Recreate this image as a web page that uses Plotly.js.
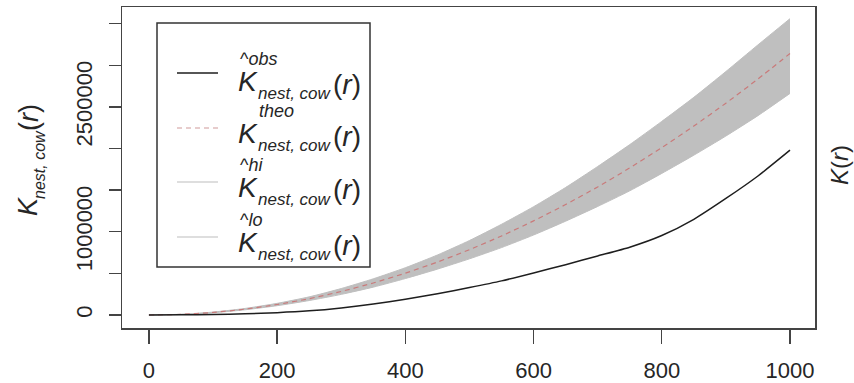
<!DOCTYPE html>
<html>
<head>
<meta charset="utf-8">
<script src="https://cdn.plot.ly/plotly-3.0.1.min.js"></script>
<style>
html,body{margin:0;padding:0;background:#fff;}
#chart{width:854px;height:383px;}
</style>
</head>
<body>
<div id="chart"></div>
<script>
// ---- data ----
const r      = [0,50,100,150,200,250,300,350,400,450,500,550,600,650,700,750,800,850,900,950,1000];
const kObs   = [0,2000,6000,14000,28000,50000,85000,132000,190000,255000,330000,410000,505000,605000,710000,815000,955000,1150000,1400000,1670000,1980000];
const kTheo  = [0,8000,31000,71000,126000,196000,283000,385000,503000,636000,785000,950000,1131000,1327000,1539000,1767000,2011000,2270000,2545000,2835000,3142000];
const kHi    = [0,9000,35000,79000,140000,218000,318000,435000,568000,721000,895000,1090000,1301000,1532000,1784000,2047000,2326000,2615000,2925000,3245000,3560000];
const kLo    = [0,7000,27000,63000,112000,174000,248000,335000,438000,551000,675000,810000,961000,1127000,1304000,1492000,1701000,1920000,2150000,2395000,2662000];
const xTickVals = [0,200,400,600,800,1000];
const yTickVals = [0,500000,1000000,1500000,2000000,2500000,3000000,3500000];
const yTickText = ['0','','1000000','','','2500000','',''];
const legendSup = ['obs','theo','hi','lo'];
const legendHat = [true,false,true,true];
const legendSub = 'nest, cow';

// ---- layout geometry (pixels) ----
const W=854,H=383,L=122,R=815,T=7,B=328;
const px = x => (x-L)/(R-L);
const py = y => (B-y)/(B-T);

const traces = [
  {x:r,y:kLo,type:'scatter',mode:'lines',line:{color:'#bfbfbf',width:1,shape:'spline',smoothing:0.6},hoverinfo:'skip',showlegend:false},
  {x:r,y:kHi,type:'scatter',mode:'lines',fill:'tonexty',fillcolor:'#bfbfbf',line:{color:'#bfbfbf',width:1,shape:'spline',smoothing:0.6},hoverinfo:'skip',showlegend:false},
  {x:r,y:kTheo,type:'scatter',mode:'lines',line:{color:'#c97a7a',width:1.2,dash:'5px,4px',shape:'spline',smoothing:0.6},showlegend:false},
  {x:r,y:kObs,type:'scatter',mode:'lines',line:{color:'#1e1e1e',width:1.5,shape:'spline',smoothing:0.6},showlegend:false}
];

const FONT='Liberation Sans, Arial, sans-serif';
const TXT='#262626';
const ann=[];
const shapes=[];
// legend box
shapes.push({type:'rect',xref:'paper',yref:'paper',x0:px(157),x1:px(370),y0:py(23),y1:py(267),line:{color:'#333',width:1.5},fillcolor:'rgba(255,255,255,0)'});
const kCenters=[81,133,187,242];
const sampleY=[73,128,182,237];
const sampleStyle=[{color:'#1e1e1e',width:1.6,dash:'solid'},{color:'#cf9a9a',width:1.2,dash:'5px,4px'},{color:'#bdbdbd',width:1.2,dash:'solid'},{color:'#bdbdbd',width:1.2,dash:'solid'}];
for(let i=0;i<4;i++){
  const c=kCenters[i];
  shapes.push({type:'line',xref:'paper',yref:'paper',x0:px(177),x1:px(218),y0:py(sampleY[i]),y1:py(sampleY[i]),line:sampleStyle[i]});
  ann.push({xref:'paper',yref:'paper',x:px(237),y:py(c),xanchor:'left',yanchor:'middle',text:'<i>K</i>',showarrow:false,borderpad:0,font:{family:FONT,size:28,color:TXT}});
  const sup = (legendHat[i] ? '^' : '') + '<i>'+legendSup[i]+'</i>';
  ann.push({xref:'paper',yref:'paper',x:px(legendHat[i]?239:258),y:py(c-22),xanchor:'left',yanchor:'middle',text:sup,showarrow:false,borderpad:0,font:{family:FONT,size:18,color:TXT}});
  ann.push({xref:'paper',yref:'paper',x:px(257),y:py(c+12),xanchor:'left',yanchor:'middle',text:'<i>'+legendSub+'</i>',showarrow:false,borderpad:0,font:{family:FONT,size:17,color:TXT}});
  ann.push({xref:'paper',yref:'paper',x:px(332),y:py(c+3),xanchor:'left',yanchor:'middle',text:'(<i>r</i>)',showarrow:false,borderpad:0,font:{family:FONT,size:28,color:TXT}});
}
// y axis title (rotated pieces)
ann.push({xref:'paper',yref:'paper',x:px(28),y:py(207),xanchor:'center',yanchor:'middle',textangle:-90,text:'<i>K</i>',showarrow:false,borderpad:0,font:{family:FONT,size:27,color:TXT}});
ann.push({xref:'paper',yref:'paper',x:px(39),y:py(165),xanchor:'center',yanchor:'middle',textangle:-90,text:'<i>'+legendSub+'</i>',showarrow:false,borderpad:0,font:{family:FONT,size:16,color:TXT}});
ann.push({xref:'paper',yref:'paper',x:px(29),y:py(118),xanchor:'center',yanchor:'middle',textangle:-90,text:'(<i>r</i>)',showarrow:false,borderpad:0,font:{family:FONT,size:27,color:TXT}});
// right title
ann.push({xref:'paper',yref:'paper',x:px(839),y:py(165),xanchor:'center',yanchor:'middle',textangle:-90,text:'<i>K</i>(<i>r</i>)',showarrow:false,borderpad:0,font:{family:FONT,size:24,color:TXT}});

const layout={
  width:W,height:H,
  margin:{l:L,r:W-R,t:T,b:H-B,pad:0},
  paper_bgcolor:'#fff',plot_bgcolor:'#fff',
  showlegend:false,
  font:{family:FONT,color:TXT},
  xaxis:{range:[-42,1039],tickmode:'array',tickvals:xTickVals,ticks:'outside',ticklen:14,tickwidth:1.3,tickcolor:'#444',
    showline:true,mirror:true,linecolor:'#444',linewidth:1.5,showgrid:false,zeroline:false,
    tickfont:{family:FONT,size:22,color:TXT},ticklabelstandoff:8},
  yaxis:{range:[-156000,3700000],tickmode:'array',tickvals:yTickVals,ticktext:yTickText,ticks:'outside',ticklen:12,tickwidth:1.3,tickcolor:'#444',
    tickangle:-90,showline:true,mirror:true,linecolor:'#444',linewidth:1.5,showgrid:false,zeroline:false,
    tickfont:{family:FONT,size:22,color:TXT},ticklabelstandoff:8},
  shapes:shapes,annotations:ann
};
Plotly.newPlot('chart',traces,layout,{staticPlot:true,displayModeBar:false});
</script>
</body>
</html>
